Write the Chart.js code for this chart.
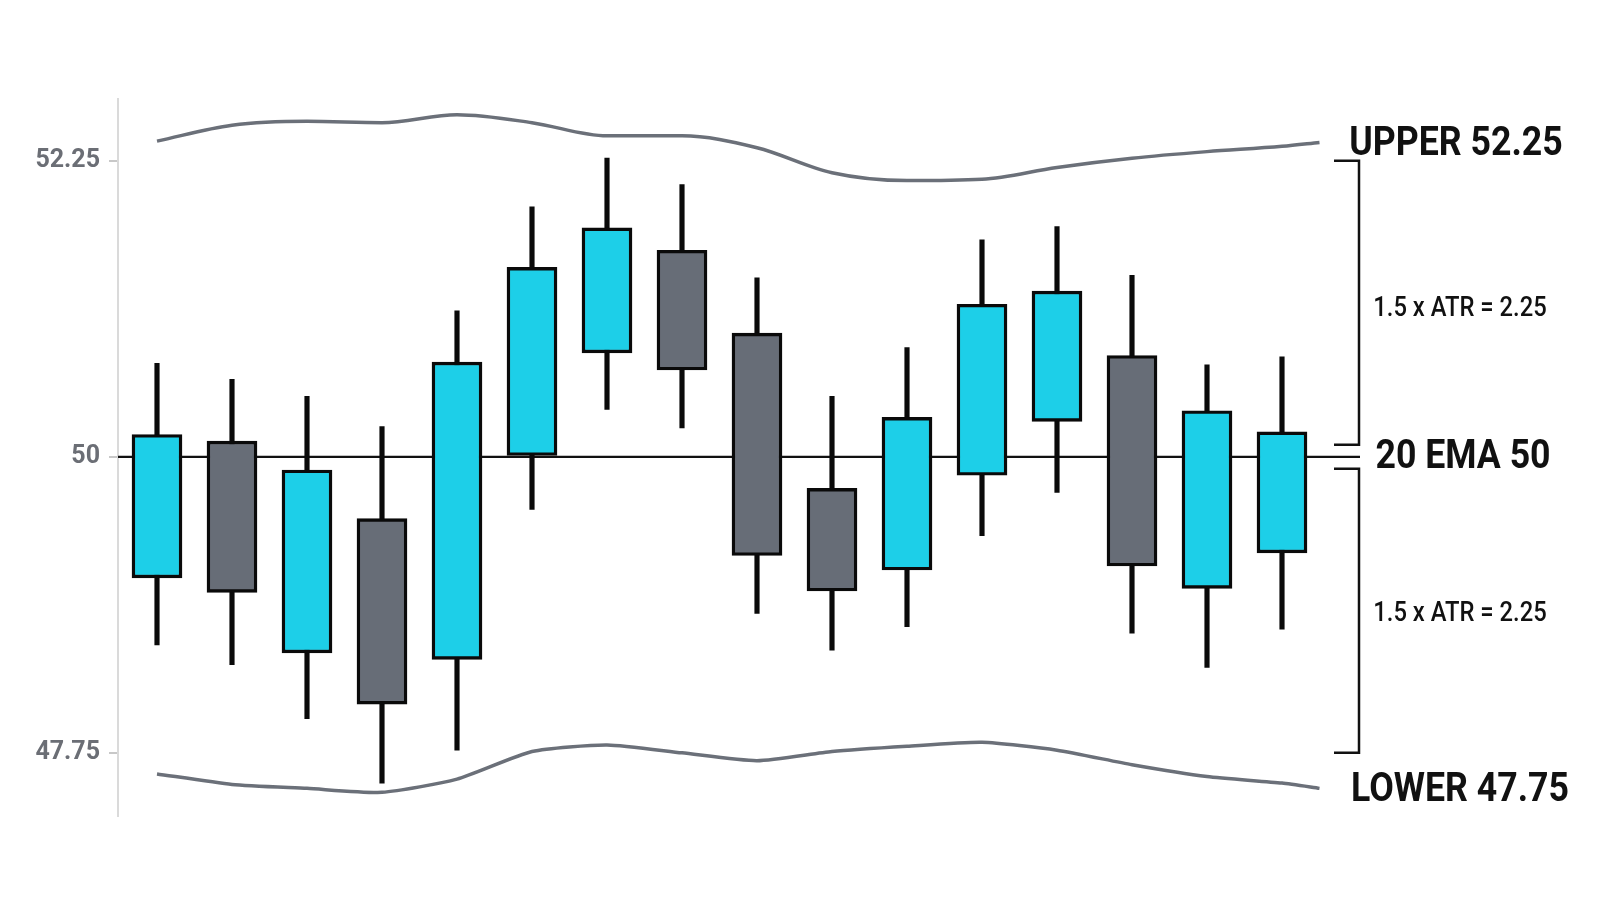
<!DOCTYPE html>
<html>
<head>
<meta charset="utf-8">
<title>ATR bands around 20 EMA</title>
<script src="https://cdn.jsdelivr.net/npm/chart.js@4.4.1/dist/chart.umd.min.js"></script>
<style>
  html, body { margin: 0; padding: 0; background: #ffffff; }
  #wrap { width: 1600px; height: 914px; position: relative; }
</style>
</head>
<body>
<div id="wrap"><canvas id="myChart"></canvas></div>
<script>
// Candles, one per session.
const sessions = [0, 1, 2, 3, 4, 5, 6, 7, 8, 9, 10, 11, 12, 13, 14, 15];
const opens  = [49.08, 50.12, 48.51, 49.53, 48.46, 50.01, 50.79, 51.57, 50.94, 49.76, 49.14, 49.86, 50.27, 50.77, 49.00, 49.27];
const highs  = [50.71, 50.59, 50.46, 50.23, 51.11, 51.90, 52.27, 52.07, 51.36, 50.46, 50.83, 51.65, 51.75, 51.38, 50.70, 50.76];
const lows   = [48.57, 48.42, 48.01, 47.52, 47.77, 49.60, 50.36, 50.22, 48.81, 48.53, 48.71, 49.40, 49.73, 48.66, 48.40, 48.69];
const closes = [50.17, 48.97, 49.90, 48.12, 50.72, 51.44, 51.74, 50.66, 49.25, 48.98, 50.30, 51.16, 51.26, 49.17, 50.35, 50.19];

// Band lines (they run half a bar past the last candle).
const bandX     = [0, 1, 2, 3, 4, 5, 6, 7, 8, 9, 10, 11, 12, 13, 14, 15, 15.5];
const upperBand = [52.40, 52.52, 52.55, 52.54, 52.60, 52.54, 52.44, 52.44, 52.35, 52.16, 52.10, 52.11, 52.20, 52.27, 52.32, 52.36, 52.39];
const lowerBand = [47.59, 47.51, 47.48, 47.45, 47.55, 47.76, 47.81, 47.75, 47.69, 47.76, 47.80, 47.83, 47.77, 47.66, 47.57, 47.52, 47.48];

// Levels and tick labels.
const emaLevel = 50;
const upperLevel = 52.25;
const lowerLevel = 47.75;
const atrText = "1.5 x ATR = 2.25";
const yTicks = [47.75, 50, 52.25];

const bullColor = "#1dcfe8";
const bearColor = "#676d77";
const labelFont = "Roboto, 'Noto Sans', sans-serif";

const bodies = sessions.map((s, i) => ({ x: s, y: [opens[i], closes[i]] }));
const wicks = sessions.map((s, i) => ({ x: s, y: [lows[i], highs[i]] }));
const bodyColors = sessions.map((s, i) => (closes[i] >= opens[i] ? bullColor : bearColor));

// condensed look: squeeze the text horizontally
function narrowText(ctx, text, x, y, squeeze) {
  ctx.save();
  ctx.translate(x, y);
  ctx.scale(squeeze, 1);
  ctx.fillText(text, 0, 0);
  ctx.restore();
}

// EMA line behind candles, bracket and labels on the right.
const levelPlugin = {
  id: "levels",
  beforeDatasetsDraw(chart) {
    const { ctx, chartArea, scales } = chart;
    const y = scales.y.getPixelForValue(emaLevel);
    ctx.save();
    ctx.strokeStyle = "#111111";
    ctx.lineWidth = 2.4;
    ctx.beginPath();
    ctx.moveTo(chartArea.left, y);
    ctx.lineTo(chartArea.right, y);
    ctx.stroke();
    ctx.restore();
  },
  afterDatasetsDraw(chart) {
    const { ctx, chartArea, scales } = chart;
    const ys = scales.y;
    const yEma = ys.getPixelForValue(emaLevel);
    const yUp = ys.getPixelForValue(upperLevel);
    const yLo = ys.getPixelForValue(lowerLevel);
    const xr = chartArea.right - 1;
    const xl = xr - 25;
    const gap = 12;

    ctx.save();
    ctx.strokeStyle = "#111111";
    ctx.lineWidth = 2.5;
    ctx.beginPath();
    ctx.moveTo(xl, yUp); ctx.lineTo(xr, yUp); ctx.lineTo(xr, yEma - gap); ctx.lineTo(xl, yEma - gap);
    ctx.moveTo(xl, yEma + gap); ctx.lineTo(xr, yEma + gap); ctx.lineTo(xr, yLo); ctx.lineTo(xl, yLo);
    ctx.stroke();

    const cx = xr + 101;
    ctx.fillStyle = "#111111";
    ctx.textAlign = "center";
    ctx.textBaseline = "middle";
    ctx.font = "bold 41px " + labelFont;
    narrowText(ctx, "UPPER " + upperLevel, cx - 4, ys.getPixelForValue(upperBand[upperBand.length - 1]) + 2, 0.87);
    narrowText(ctx, "20 EMA " + emaLevel, cx + 3, yEma + 1, 0.87);
    narrowText(ctx, "LOWER " + lowerLevel, cx, ys.getPixelForValue(lowerBand[lowerBand.length - 1]) + 2, 0.87);

    ctx.font = "500 27px " + labelFont;
    narrowText(ctx, atrText, cx, (yUp + yEma - gap) / 2 + 6, 0.88);
    narrowText(ctx, atrText, cx, (yLo + yEma + gap) / 2 + 3, 0.88);
    ctx.restore();
  }
};

const config = {
  type: "bar",
  data: {
    datasets: [
      {
        label: "Body",
        data: bodies,
        backgroundColor: bodyColors,
        borderColor: "#0a0a0a",
        borderWidth: 3.4,
        borderSkipped: false,
        barThickness: 50,
        grouped: false,
        order: 0,
      },
      {
        label: "Wick",
        data: wicks,
        backgroundColor: "#0a0a0a",
        borderWidth: 0,
        barThickness: 4.5,
        grouped: false,
        order: 1,
      },
      {
        type: "line",
        label: "Upper",
        data: bandX.map((x, i) => ({ x: x, y: upperBand[i] })),
        borderColor: "#6b7079",
        borderWidth: 3.5,
        pointRadius: 0,
        tension: 0.3,
        cubicInterpolationMode: "monotone",
        order: 2,
      },
      {
        type: "line",
        label: "Lower",
        data: bandX.map((x, i) => ({ x: x, y: lowerBand[i] })),
        borderColor: "#6b7079",
        borderWidth: 3.5,
        pointRadius: 0,
        tension: 0.2,
        order: 2,
      },
    ],
  },
  options: {
    responsive: true,
    maintainAspectRatio: false,
    animation: false,
    layout: { padding: { left: 0, right: 240, top: 99, bottom: 98 } },
    plugins: { legend: { display: false }, tooltip: { enabled: false } },
    scales: {
      x: {
        type: "linear",
        min: -0.52,
        max: 16.04,
        offset: false,
        display: false,
      },
      y: {
        min: 47.27,
        max: 52.72,
        afterFit(scale) { scale.width = 118; },
        afterBuildTicks(scale) { scale.ticks = yTicks.map(v => ({ value: v })); },
        border: { display: true, color: "#dadada", width: 2 },
        grid: { drawOnChartArea: false, drawTicks: true, tickLength: 9, color: "#c8c8c8", lineWidth: 2 },
        ticks: {
          padding: 9,
          color: "#6b6e75",
          font: { family: labelFont, size: 25, weight: "bold" },
          callback: (v) => String(v),
        },
      },
    },
  },
  plugins: [levelPlugin],
};

// Graph data.
let myChart = new Chart(document.getElementById("myChart"), config);
</script>
</body>
</html>
